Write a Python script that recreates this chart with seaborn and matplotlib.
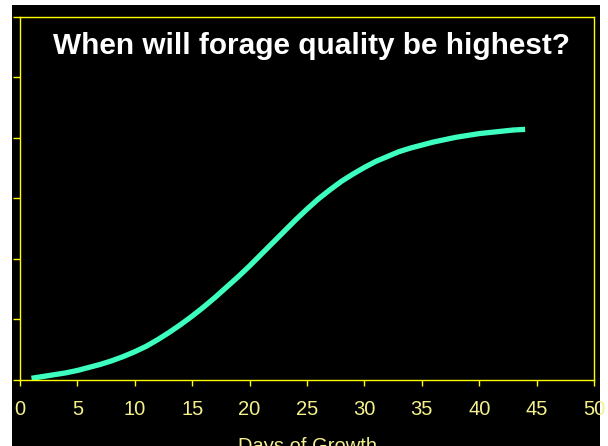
import matplotlib
matplotlib.use("Agg")
import matplotlib.pyplot as plt
import seaborn as sns
import pandas as pd
from matplotlib.patches import Rectangle

days = list(range(1, 45))
quality = [0.02, 0.05, 0.08, 0.11, 0.15, 0.20, 0.25, 0.31, 0.38, 0.46,
           0.55, 0.66, 0.78, 0.91, 1.05, 1.20, 1.36, 1.53, 1.70, 1.88,
           2.07, 2.26, 2.45, 2.64, 2.82, 2.99, 3.14, 3.28, 3.40, 3.51,
           3.61, 3.69, 3.77, 3.83, 3.88, 3.93, 3.97, 4.01, 4.04, 4.07,
           4.09, 4.11, 4.13, 4.14]
x_ticks = [0, 5, 10, 15, 20, 25, 30, 35, 40, 45, 50]
y_ticks = [0, 1, 2, 3, 4, 5, 6]
title = "When will forage quality be highest?"
xlabel = "Days of Growth"

sns.set_style("dark")
plt.rcParams['font.family'] = ['Liberation Sans', 'DejaVu Sans']

W, H = 608, 446
fig = plt.figure(figsize=(W / 100, H / 100), dpi=100, facecolor='white')
fig.patches.append(Rectangle((12 / W, 0), (600 - 12) / W, (H - 5) / H,
                             transform=fig.transFigure, facecolor='black',
                             edgecolor='none', zorder=-10))
ax = fig.add_axes([20 / W, 66.5 / H, (594 - 20) / W, (379.5 - 17) / H])
ax.set_facecolor('black')

df = pd.DataFrame({"days": days, "quality": quality})
sns.lineplot(data=df, x="days", y="quality", ax=ax, color='#3dffbf', linewidth=3.8,
             solid_capstyle='butt', solid_joinstyle='round')

ax.set_xlim(0, 50)
ax.set_ylim(0, 6)
ax.set_xticks(x_ticks)
ax.set_xticklabels([str(t) for t in x_ticks])
ax.set_yticks(y_ticks)
ax.set_yticklabels([])
ax.grid(False)
for s in ax.spines.values():
    s.set_visible(True)
    s.set_color('#ffff00')
    s.set_linewidth(1.0)
ax.tick_params(axis='x', colors='#ffff00', labelcolor='#f5f08c', length=4, width=1,
               direction='out', labelsize=14.5, pad=11, bottom=True)
ax.tick_params(axis='y', colors='#ffff00', length=5, width=1, direction='out', left=True)
ax.set_xlabel(xlabel, color='#f5f08c', fontsize=14.5, labelpad=13)
ax.set_ylabel("")
ax.text(0.507, 0.919, title, transform=ax.transAxes, ha='center', va='center',
        color='white', fontsize=21.4, fontweight='bold')

fig.savefig("out.png", dpi=100, facecolor=fig.get_facecolor())
